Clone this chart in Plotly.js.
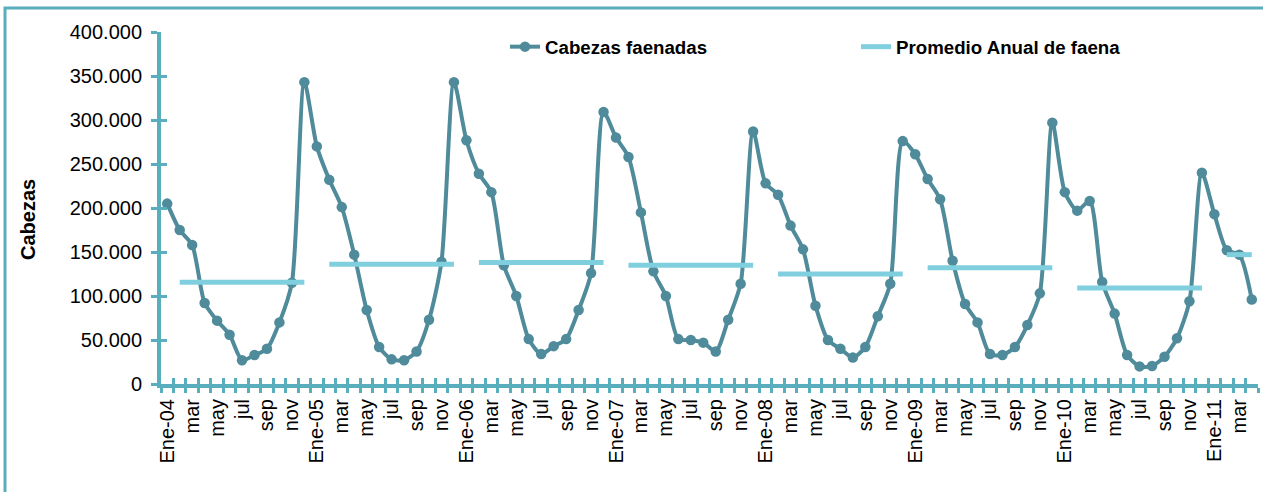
<!DOCTYPE html>
<html><head><meta charset="utf-8">
<script src="https://cdn.plot.ly/plotly-3.0.1.min.js"></script>
<style>html,body{margin:0;padding:0;background:#fff}#chart{width:1263px;height:492px}</style>
</head><body><div id="chart"></div>
<script>
const monthNames = ['Ene','feb','mar','abr','may','jun','jul','ago','sep','oct','nov','dic'];
const years = ['04','05','06','07','08','09','10','11'];
const cabezas = [
  205000,175000,158000,92000,72000,56000,27000,33000,40000,70000,115000,343000,
  270000,232000,201000,147000,84000,42000,28000,27000,37000,73000,139000,343000,
  277000,239000,218000,135000,100000,51000,34000,43000,51000,84000,126000,309000,
  280000,258000,195000,128000,100000,51000,50000,47000,37000,73000,114000,287000,
  228000,215000,180000,153000,89000,50000,40000,30000,42000,77000,114000,276000,
  261000,233000,210000,140000,91000,70000,34000,33000,42000,67000,103000,297000,
  218000,197000,208000,116000,80000,33000,20000,20500,31000,52000,94000,240000,
  193000,152000,147000,96000
];
const promedioAnual = [115500,136000,138000,135000,125000,132000,109000,147000];
const yTicks = [0,50000,100000,150000,200000,250000,300000,350000,400000];
const yTitle = 'Cabezas';

const categories = [], tickText = [];
for (let i = 0; i < cabezas.length; i++) {
  const yy = years[Math.floor(i/12)], m = monthNames[i%12];
  categories.push(m + '-' + yy);
  tickText.push(i%12 === 0 ? 'Ene-' + yy : (i%2 === 0 ? m : ''));
}
const promedio = categories.map((c,i) => i%12 === 0 ? null : promedioAnual[Math.floor(i/12)]);

const W = 1263, H = 492, ML = 161, MR = 5, MT = 32, MB = 108;
const PW = W - ML - MR, PH = H - MT - MB;
const px = v => (v - ML) / PW, py = v => (H - MB - v) / PH;

const axisColor = '#58aebc';
const serieColor = '#4f8b9a';
const promColor = '#80cfdf';
const n = categories.length;
const boundaries = [];
for (let k = 0; k <= n; k++) boundaries.push(k - 0.5);

const traces = [
  {x: categories, y: cabezas, name: 'Cabezas faenadas', type: 'scatter', mode: 'lines+markers',
   line: {color: serieColor, width: 4, shape: 'spline', smoothing: 0.7},
   marker: {color: serieColor, size: 10.5}},
  {x: categories, y: promedio, name: 'Promedio Anual de faena', type: 'scatter', mode: 'lines',
   line: {color: promColor, width: 5}, connectgaps: false},
  // empty helper trace so the overlay axes (inner tick marks) are drawn
  {x: [], y: [], xaxis: 'x2', yaxis: 'y2', type: 'scatter', mode: 'lines', showlegend: false, hoverinfo: 'skip'}
];

const layout = {
  width: W, height: H,
  margin: {l: ML, r: MR, t: MT, b: MB},
  paper_bgcolor: '#fff', plot_bgcolor: 'rgba(0,0,0,0)',
  separators: ',.',
  font: {family: 'Liberation Sans, Arial, sans-serif', color: '#000', size: 20},
  showlegend: true,
  legend: {orientation: 'h', x: px(505), y: py(28), xanchor: 'left', yanchor: 'top',
           font: {size: 18.7, weight: 'bold'}, entrywidth: 306, entrywidthmode: 'pixels',
           bgcolor: 'rgba(0,0,0,0)'},
  xaxis: {type: 'category', categoryorder: 'array', categoryarray: categories,
          range: [-0.5, n - 0.5], tickmode: 'array', tickvals: categories, ticktext: tickText,
          tickson: 'boundaries', ticks: 'outside', ticklen: 5, tickwidth: 3, tickcolor: axisColor,
          tickangle: -90, tickfont: {size: 20}, ticklabelstandoff: 3,
          showline: true, linecolor: axisColor, linewidth: 4, showgrid: false, zeroline: false},
  xaxis2: {overlaying: 'x', anchor: 'y', side: 'bottom', range: [-0.5, n - 0.5],
           tickmode: 'array', tickvals: boundaries, ticks: 'inside', ticklen: 6, tickwidth: 3,
           tickcolor: axisColor, showticklabels: false, showline: false, showgrid: false, zeroline: false},
  yaxis: {range: [0, 400000], tickmode: 'array', tickvals: yTicks, tickformat: ',d',
          ticks: 'outside', ticklen: 6, tickwidth: 3, tickcolor: axisColor,
          showline: true, linecolor: axisColor, linewidth: 4, showgrid: false, zeroline: false,
          tickfont: {size: 20}, ticklabelstandoff: 5},
  yaxis2: {overlaying: 'y', anchor: 'x', side: 'left', range: [0, 400000],
           tickmode: 'array', tickvals: yTicks, ticks: 'inside', ticklen: 6, tickwidth: 3,
           tickcolor: axisColor, showticklabels: false, showline: false, showgrid: false, zeroline: false},
  annotations: [{text: '<b>' + yTitle + '</b>', xref: 'paper', yref: 'paper', x: px(28), y: py(220),
                 xanchor: 'center', yanchor: 'middle', textangle: -90, showarrow: false,
                 font: {size: 20, color: '#000'}}],
  shapes: [{type: 'rect', xref: 'paper', yref: 'paper', x0: px(5), x1: px(1400), y0: py(700), y1: py(8),
            line: {color: axisColor, width: 3}, layer: 'below'}]
};

Plotly.newPlot('chart', traces, layout, {displayModeBar: false, staticPlot: true});
</script></body></html>
